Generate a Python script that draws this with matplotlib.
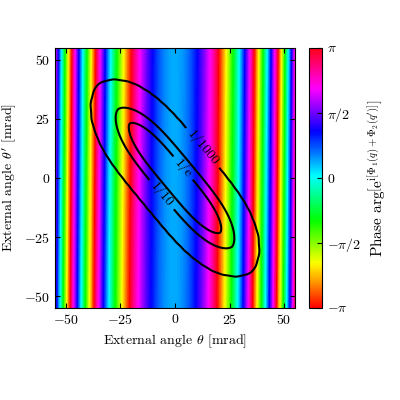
import numpy as np
import matplotlib
matplotlib.use("Agg")
import matplotlib.pyplot as plt

plt.rcParams.update({
    "font.family": "serif", "font.serif": ["cmr10"], "mathtext.fontset": "cm",
    "axes.formatter.use_mathtext": True, "font.size": 10,
    "xtick.direction": "in", "ytick.direction": "in",
    "xtick.top": True, "ytick.right": True,
})

# axis / tick data
theta_lim = 55
ticks = [-50, -25, 0, 25, 50]
cbar_ticks = [-np.pi, -np.pi/2, 0, np.pi/2, np.pi]
cbar_labels = [r"$-\pi$", r"$-\pi/2$", r"$0$", r"$\pi/2$", r"$\pi$"]

# phase model parameters read from fringe positions
phase_center = 0.4        # phase at stripe centre [rad]
phase_curv = 0.00686      # rad / mrad^2
center_offset = -0.4      # mrad
center_tilt = 0.007       # shift of centre per mrad of theta'

# intensity envelope parameters (major axis along theta' = -theta)
axis_angle = 48.0
major_len, major_pow = 31.0, 3.6
minor_len, minor_pow = 5.6, 1.65
ripple = 6e-5
levels = [1e-3, 0.1, np.exp(-1)]
level_names = {1e-3: "1/1000", 0.1: "1/10", np.exp(-1): "1/e"}
label_pos = [(13.8, 13.6), (-6.8, -7.6), (3.7, 4.2)]

t = np.linspace(-theta_lim, theta_lim, 600)
T, TP = np.meshgrid(t, t)

tc = center_offset + center_tilt * TP
phase = phase_center + phase_curv * (T - tc) ** 2
phase = np.angle(np.exp(1j * phase))

a = np.deg2rad(axis_angle)
v = T * np.cos(a) - TP * np.sin(a)
u = T * np.sin(a) + TP * np.cos(a)
I = np.exp(-(np.abs(v) / major_len) ** major_pow - (np.abs(u) / minor_len) ** minor_pow)
I = I + ripple * np.cos(0.9 * T) * np.cos(0.9 * TP)

fig = plt.figure(figsize=(4, 4), dpi=100)
ax = fig.add_axes([0.1375, 0.23, 0.6, 0.65])
cax = fig.add_axes([0.7725, 0.23, 0.0325, 0.65])

im = ax.pcolormesh(T, TP, phase, cmap="hsv", vmin=-np.pi, vmax=np.pi, shading="auto", rasterized=True)
cs = ax.contour(T, TP, I, levels=levels, colors="k", linewidths=1.5)
ax.clabel(cs, fmt=level_names, manual=label_pos, inline=True, fontsize=10)

ax.set_xlim(-theta_lim, theta_lim)
ax.set_ylim(-theta_lim, theta_lim)
ax.set_xticks(ticks)
ax.set_yticks(ticks)
ax.set_xlabel(r"External angle $\theta$ [mrad]")
ax.set_ylabel(r"External angle $\theta'$ [mrad]")

cb = fig.colorbar(im, cax=cax, ticks=cbar_ticks)
cb.ax.set_yticklabels(cbar_labels)
cb.ax.tick_params(direction="in")
cb.set_label(r"Phase arg$\left[\mathrm{e}^{\mathrm{i}\left[\Phi_1(q)+\Phi_2(q')\right]}\right]$", fontsize=11)

fig.savefig("out.png", dpi=100)
